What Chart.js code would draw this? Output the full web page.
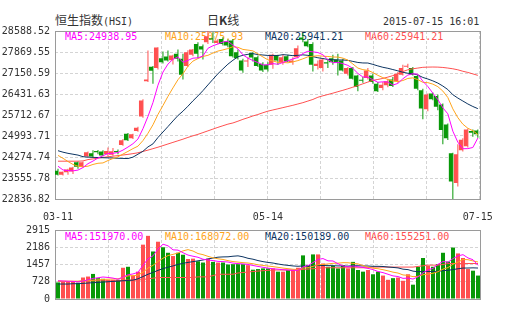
<!DOCTYPE html>
<html><head><meta charset="utf-8">
<script src="https://cdn.jsdelivr.net/npm/chart.js@4.4.1/dist/chart.umd.min.js"></script>
<style>
html,body{margin:0;padding:0;background:#fff}
body{width:505px;height:330px;position:relative;overflow:hidden}
.tx{position:absolute;white-space:nowrap;font-family:"DejaVu Sans Mono",monospace;font-size:10px;line-height:10px;color:#333;z-index:0}
.cjk{font-family:"Noto Sans CJK SC",sans-serif;font-size:12px;line-height:12px}
canvas{position:absolute;left:0;z-index:1}
</style></head><body>
<div class="tx" style="left:55px;top:14px;line-height:12px"><span class="cjk">恒生指数</span><span>(HSI)</span></div>
<div class="tx cjk" style="left:207px;top:14px">日<b>K</b>线</div>
<div class="tx" id="stamp" style="left:383px;top:17px"></div>
<canvas id="main" width="505" height="206" style="top:20px"></canvas>
<canvas id="vol" width="505" height="95" style="top:215px"></canvas>
<script>
// ---------- data ----------
const stampText = '2015-07-15 16:01';
const dates = ['03-11','03-12','03-13','03-16','03-17','03-18','03-19','03-20','03-23','03-24','03-25','03-26','03-27','03-30','03-31',
'04-01','04-02','04-08','04-09','04-10','04-13','04-14','04-15','04-16','04-17','04-20','04-21','04-22','04-23','04-24','04-27','04-28','04-29','04-30',
'05-04','05-05','05-06','05-07','05-08','05-11','05-12','05-13','05-14','05-15','05-18','05-19','05-20','05-21','05-22','05-26','05-27','05-28','05-29',
'06-01','06-02','06-03','06-04','06-05','06-08','06-09','06-10','06-11','06-12','06-15','06-16','06-17','06-18','06-19','06-22','06-23','06-24','06-25','06-26','06-29','06-30',
'07-02','07-03','07-06','07-07','07-08','07-09','07-10','07-13','07-14','07-15'];
const xTickLabels = ['03-11','05-14','07-15'];
const priceTickLabels = ['22836.82','23555.78','24274.74','24993.71','25712.67','26431.63','27150.59','27869.55','28588.52'];
const volTickLabels = ['0','728','1457','2186','2915'];

const open = [23802,23666,23756,23779,24097,23938,24301,24403,24482,24460, 24369,24350,24482,24687,25072,24913,25163,25662,26864,27364,
 27318,27658,27715,27590,27806,27636,27386,27772,28146,28067, 28203,28339,28180,28316,28226,28260,27863,27579,27545,27840,
 27692,27466,27432,27432,27749,27522,27727,27522,27692,28362, 28226,28146,27386,27318,27522,27658,27613,27579,27125,27318,
 27068,26921,26978,27068,26785,26638,26728,26932,26864,27091, 27364,27318,27046,26558,25912,26445,26365,26070,25390,24403,
 23382,24505,24641,25163,25186];
const high = [23870,23779,23870,23938,24119,24119,24460,24505,24517,24505, 24596,24580,24528,24891,25095,25072,25310,26252,27919,27386,
 28033,27885,27919,27772,27953,27806,27931,27976,28203,28124, 28588.52,28543,28316,28373,28294,28316,27953,27636,27692,27863,
 27749,27522,27522,27806,27772,27772,27772,27692,28089,28520, 28316,28203,27579,27658,27613,27772,27806,27636,27352,27352,
 27091,27012,27318,27125,26842,26842,26955,27012,27182,27432, 27466,27352,27091,26615,26445,26479,26411,26104,25424,24420,
 24709,24913,25254,25220,25220];
const low = [23643,23643,23666,23689,23870,23915,24279,24256,24369,24301, 24301,24320,24369,24664,24823,24891,25140,25617,26842,26785,
 27273,27477,27545,27443,27545,26932,27352,27727,27658,27613, 28146,28180,28135,28089,28033,27681,27613,27159,27352,27545,
 27352,27182,27205,27295,27432,27432,27522,27432,27658,28203, 28033,27205,27273,27205,27318,27432,27068,27205,27068,26932,
 26525,26819,26932,26785,26502,26558,26660,26672,26819,27068, 27318,27068,26558,25571,25844,26218,25878,24709,24857,22836.82,
 23269,24460,24596,24970,24930];
const close = [23666,23768,23847,23915,23938,24097,24437,24290,24437,24324, 24482,24470,24437,24845,24845,25050,25276,26206,26932,27227,
 28021,27522,27579,27749,27636,27091,27863,27953,27806,27953, 28407,28294,28260,28146,28089,27727,27658,27239,27579,27681,
 27386,27239,27273,27772,27579,27692,27545,27579,27999,28294, 28067,27432,27466,27613,27477,27522,27500,27239,27318,26955,
 26672,26887,27239,26842,26525,26751,26864,26706,27125,27318, 27386,27091,26615,25934,26411,26252,25991,25197,24913,23439,
 24369,24868,25220,25106,25057];
const ma5Lead = [23960,23830,23810,23800];
const ma10Lead = [24330,24230,24120,24020,23960,23940,23960,24020,24060];
const ma20Lead = [24490,24440,24400,24370,24340,24285,24270,24262,24257,24250,24245,24240,24232,24226,24222,24270,24370,24470,24620];
const ma60 = [24131,24131,24131,24131,24131,24140,24187,24210,24235,24260, 24283,24303,24323,24343,24365,24390,24420,24465,24510,24560,
 24610,24665,24720,24775,24830,24885,24945,25000,25050,25110, 25170,25230,25290,25345,25400,25440,25500,25565,25620,25680,
 25730,25790,25844,25885,25925,25965,26005,26045,26090,26135, 26190,26245,26320,26370,26415,26460,26510,26558,26610,26665,
 26720,26780,26840,26898,26930,26965,27010,27060,27120,27200, 27260,27295,27320,27345,27352,27355,27352,27340,27320,27295,
 27260,27210,27170,27120,27070];

const volume = [700,730,740,745,690,908,949,1059,880,853, 811,811,811,1320,1361,990,1155,2296,2668,2008,
 2420,2186,1953,1815,1953,1870,1691,1705,1595,1540, 1705,1568,1540,1540,1458,1471,1471,1471,1430,1238,
 1265,1293,1293,1293,1155,1155,1224,1224,1320,1843, 1430,1884,1884,1499,1361,1403,1293,1430,1293,1568,
 1224,1155,1224,1045,1155,990,811,880,908,770, 1045,605,1361,1733,1403,1361,1471,1953,1581,2173,
 1925,1733,1265,1196,990];
const volMa5Lead = [770,760,750,745];
const volMa10Lead = [760,755,750,750,750,765,780,795,810];
const volMa20Lead = [632,632,632,646,646,660,674,688,701,715,729,743,756,770,784,798,853,949,1045];
const volMa60 = [743,743,743,743,743,770,770,770,770,770, 770,770,770,798,798,798,798,825,853,880,
 908,908,908,908,908,908,908,908,935,935, 935,990,1045,1045,1045,1045,1100,1120,1140,1160,
 1180,1196,1210,1224,1224,1224,1224,1224,1224,1251, 1265,1279,1293,1320,1320,1320,1320,1320,1320,1320,
 1320,1320,1320,1348,1348,1348,1348,1348,1348,1348, 1348,1348,1375,1403,1430,1430,1430,1458,1499,1499,
 1499,1499,1499,1499,1499];

const maNames = ['MA5','MA10','MA20','MA60'];
const priceMaLegend = ['24938.95','25075.93','25941.21','25941.21'];
const volMaLegend = ['151970.00','168072.00','150189.00','155251.00'];

// ---------- style ----------
const RED = '#ff5050', GREEN = '#089808';
const maColors = ['#ff00ff','#ffa41b','#0c3461','#ff5050'];
const gridColor = '#d4d4d4';
const FONT = {family: "'DejaVu Sans Mono', monospace", size: 10};
Chart.defaults.font.family = FONT.family;
Chart.defaults.font.size = 10;
Chart.defaults.color = '#333';

document.getElementById('stamp').textContent = stampText;
const legendLeft = [65,165,265,365];
function addLegend(values, top){
  values.forEach((v,k)=>{
    const d = document.createElement('div');
    d.className = 'tx';
    d.style.left = legendLeft[k] + 'px';
    d.style.top = top + 'px';
    d.style.color = maColors[k];
    d.textContent = maNames[k] + ':' + v;
    document.body.appendChild(d);
  });
}
addLegend(priceMaLegend, 32);
addLegend(volMaLegend, 232);

// ---------- helpers ----------
const N = dates.length;
const idx = dates.map((_, i) => i);
function movingAvg(src, n, lead){
  return src.map((_, i) => i < n - 1 ? lead[i] : src.slice(i - n + 1, i + 1).reduce((a, b) => a + b, 0) / n);
}
const up = close.map((c, i) => c >= open[i]);
const barColor = ctx => up[ctx.dataIndex] ? RED : GREEN;
const X_MIN = -0.6, X_MAX = N - 1 + 0.4, GRID_DIV = 8;
const gridTicks = Array.from({length: GRID_DIV + 1}, (_, k) => X_MIN + k * (X_MAX - X_MIN) / GRID_DIV);

function lineDs(values, color){
  return {type:'line', data: values.map((v, i) => ({x: i, y: v})), borderColor: color, borderWidth: 1,
    pointRadius: 0, tension: 0, fill: false, xAxisID: 'x', yAxisID: 'y'};
}
function xGridAxis(){
  return {type:'linear', axis:'x', position:'bottom', min:X_MIN, max:X_MAX, bounds:'data', offset:false,
    afterBuildTicks: s => { s.ticks = gridTicks.map(v => ({value: v})); },
    afterFit: s => { s.height = 0; },
    ticks:{display:false}, grid:{color:gridColor, drawTicks:false, offset:false}, border:{display:false, dash:[3,2]}};
}
function yAxis(min, max, labels){
  return {type:'linear', position:'left', min, max, bounds:'data',
    afterBuildTicks: s => { s.ticks = labels.map(l => ({value: parseFloat(l)})); },
    afterFit: s => { s.width = 55; },
    ticks:{callback:(v, i) => labels[i], font:FONT, color:'#333', padding:5, autoSkip:false},
    grid:{color:gridColor, drawTicks:false}, border:{display:false, dash:[3,2]}};
}
const framePlugin = {
  id:'frame',
  beforeDatasetsDraw(c){
    const a = c.chartArea, ctx = c.ctx;
    ctx.save();
    ctx.strokeStyle = '#9a9a9a'; ctx.lineWidth = 1; ctx.setLineDash([]);
    ctx.strokeRect(Math.round(a.left) + 0.5, Math.round(a.top) + 0.5, Math.round(a.right - a.left), Math.round(a.bottom - a.top));
    ctx.restore();
  }
};
const common = {responsive:false, animation:false, events:[], plugins:{legend:{display:false}, tooltip:{enabled:false}}};

// ---------- price chart ----------
new Chart(document.getElementById('main'), {
  type:'bar',
  data:{datasets:[
    lineDs(movingAvg(close, 5, ma5Lead), maColors[0]),
    lineDs(movingAvg(close, 10, ma10Lead), maColors[1]),
    lineDs(movingAvg(close, 20, ma20Lead), maColors[2]),
    lineDs(ma60, maColors[3]),
    {type:'bar', data: idx.map(i => ({x: i, y: [open[i], close[i]]})), backgroundColor: barColor,
      barThickness:4, minBarLength:1, inflateAmount:0, borderWidth:0, xAxisID:'x', yAxisID:'y'},
    {type:'bar', data: idx.map(i => ({x: i, y: [low[i], high[i]]})), backgroundColor: barColor,
      barThickness:1, inflateAmount:0, borderWidth:0, xAxisID:'xw', yAxisID:'y'}
  ]},
  options:Object.assign({}, common, {
    layout:{padding:{top:10, right:25, bottom:0, left:0}},
    scales:{
      x: xGridAxis(),
      xl:{type:'linear', axis:'x', position:'bottom', min:X_MIN, max:X_MAX, bounds:'data', offset:false,
        afterBuildTicks: s => { s.ticks = xTickLabels.map(l => ({value: dates.indexOf(l)})); },
        afterFit: s => { s.height = 27; },
        ticks:{callback:(v, i) => xTickLabels[i], autoSkip:false, maxRotation:0, minRotation:0, font:FONT, color:'#333', padding:12},
        grid:{display:false, drawTicks:false, offset:false}, border:{display:false}},
      xw:{type:'linear', axis:'x', display:false, min:X_MIN + 0.1, max:X_MAX + 0.1, bounds:'data', offset:false, grid:{offset:false}},
      y: yAxis(parseFloat(priceTickLabels[0]), parseFloat(priceTickLabels[priceTickLabels.length - 1]), priceTickLabels)
    }
  }),
  plugins:[framePlugin]
});

// ---------- volume chart ----------
new Chart(document.getElementById('vol'), {
  type:'bar',
  data:{datasets:[
    lineDs(movingAvg(volume, 5, volMa5Lead), maColors[0]),
    lineDs(movingAvg(volume, 10, volMa10Lead), maColors[1]),
    lineDs(movingAvg(volume, 20, volMa20Lead), maColors[2]),
    lineDs(volMa60, maColors[3]),
    {type:'bar', data: idx.map(i => ({x: i, y: volume[i]})), backgroundColor: barColor,
      barThickness:4, inflateAmount:0, borderWidth:0, xAxisID:'x', yAxisID:'y'}
  ]},
  options:Object.assign({}, common, {
    layout:{padding:{top:15, right:25, bottom:9, left:0}},
    scales:{
      x: xGridAxis(),
      y: yAxis(parseFloat(volTickLabels[0]), parseFloat(volTickLabels[volTickLabels.length - 1]), volTickLabels)
    }
  }),
  plugins:[framePlugin]
});
</script>
</body></html>
